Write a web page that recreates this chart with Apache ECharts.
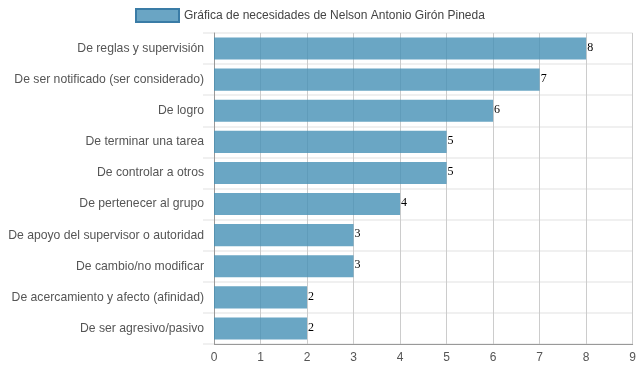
<!DOCTYPE html>
<html><head><meta charset="utf-8">
<script src="https://cdn.jsdelivr.net/npm/echarts@6/dist/echarts.min.js"></script>
<style>html,body{margin:0;padding:0;background:#fff}#c{width:639px;height:372px}</style>
</head><body><div id="c"></div>
<script>
var categories = ["De reglas y supervisión","De ser notificado (ser considerado)","De logro","De terminar una tarea","De controlar a otros","De pertenecer al grupo","De apoyo del supervisor o autoridad","De cambio/no modificar","De acercamiento y afecto (afinidad)","De ser agresivo/pasivo"];
var values = [8,7,6,5,5,4,3,3,2,2];
var seriesName = "Gráfica de necesidades de Nelson Antonio Girón Pineda";
var xTicks = [0,1,2,3,4,5,6,7,8,9];

var chart = echarts.init(document.getElementById('c'), null, {renderer:'canvas'});
chart.setOption({
  animation:false,
  textStyle:{fontFamily:'"Liberation Sans", Arial, sans-serif'},
  legend:{
    left:130, top:3, itemWidth:43, itemHeight:13, itemGap:10, icon:'rect',
    textStyle:{fontSize:12, color:'#444', fontFamily:'"Liberation Sans", Arial, sans-serif'},
    itemStyle:{color:'#6aa5c4', borderColor:'#3a7ca6', borderWidth:2},
    data:[seriesName]
  },
  grid:{left:214, right:6, top:33, bottom:28, containLabel:false},
  xAxis:{
    type:'value', min:xTicks[0], max:xTicks[xTicks.length-1], interval:1,
    axisLine:{show:true, lineStyle:{color:'#999', width:1}},
    axisTick:{show:false},
    axisLabel:{color:'#555', fontSize:12, margin:8},
    splitLine:{show:true, lineStyle:{color:'#ccc', width:1}}
  },
  yAxis:{
    type:'category', inverse:true, data:categories,
    axisLine:{show:true, lineStyle:{color:'#999', width:1}},
    axisTick:{show:true, length:11, lineStyle:{color:'#f0f0f0', width:2}},
    axisLabel:{color:'#555', fontSize:12.2, margin:10},
    splitLine:{show:true, lineStyle:{color:'#f0f0f0', width:2}}
  },
  series:[{
    name:seriesName, type:'bar', data:values, barCategoryGap:'29%',
    itemStyle:{color:'rgba(69,144,181,0.8)'},
    label:{show:true, position:'right', distance:1, color:'#000', fontSize:12, offset:[0,-1],
      fontFamily:'"Liberation Serif", "Times New Roman", serif'}
  }]
});
</script></body></html>
